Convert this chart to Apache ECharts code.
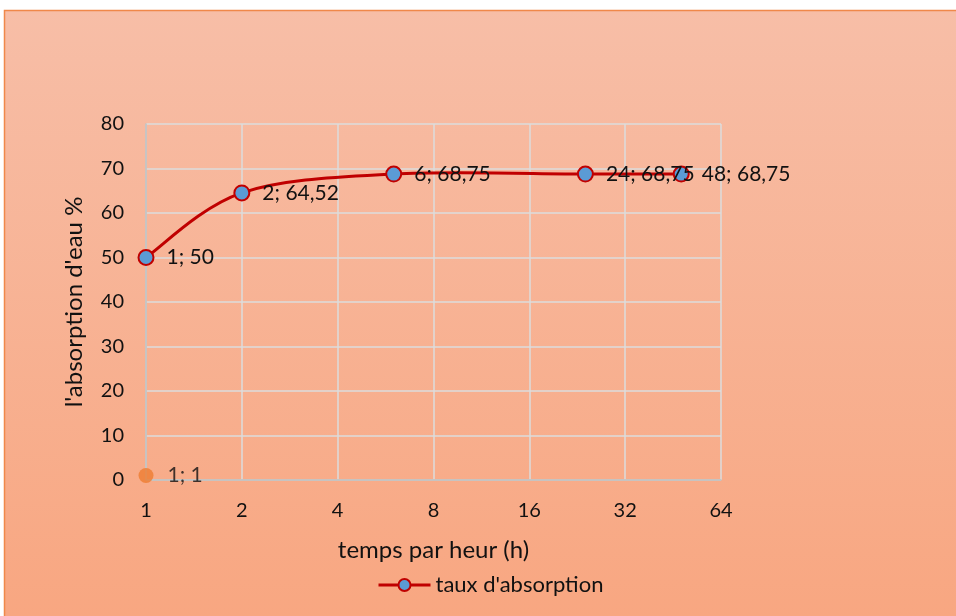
<!DOCTYPE html>
<html>
<head>
<meta charset="utf-8">
<script src="https://cdn.jsdelivr.net/npm/echarts@6/dist/echarts.min.js"></script>
<style>
html,body{margin:0;padding:0;background:#fff;}
#c{width:956px;height:616px;}
</style>
</head>
<body>
<div id="c"></div>
<script>
const seriesName = "taux d'absorption";
const hours = [1, 2, 6, 24, 48];
const absorption = [50, 64.52, 68.75, 68.75, 68.75];
const labelTexts = ["1; 50", "2; 64,52", "6; 68,75", "24; 68,75", "48; 68,75"];
const extraPoint = [1, 1];
const extraLabel = "1; 1";
const xTicks = [1, 2, 4, 8, 16, 32, 64];
const yTicks = [0, 10, 20, 30, 40, 50, 60, 70, 80];

const FONT = 'Lato';
const chart = echarts.init(document.getElementById('c'), null, {renderer: 'canvas'});

// Smooth curve (Catmull-Rom / Excel style) through the data, via axis coords
function renderCurve(params, api) {
  if (params.dataIndex !== 0) return null;
  const pts = hours.map((h, i) => api.coord([h, absorption[i]]));
  let d = 'M' + pts[0][0] + ' ' + pts[0][1];
  for (let i = 0; i < pts.length - 1; i++) {
    const p0 = pts[Math.max(i - 1, 0)], p1 = pts[i], p2 = pts[i + 1], p3 = pts[Math.min(i + 2, pts.length - 1)];
    const c1 = [p1[0] + (p2[0] - p0[0]) / 6, p1[1] + (p2[1] - p0[1]) / 6];
    const c2 = [p2[0] - (p3[0] - p1[0]) / 6, p2[1] - (p3[1] - p1[1]) / 6];
    d += ' C' + c1[0] + ' ' + c1[1] + ' ' + c2[0] + ' ' + c2[1] + ' ' + p2[0] + ' ' + p2[1];
  }
  return {
    type: 'path',
    shape: {pathData: d},
    style: {fill: null, stroke: '#C00000', lineWidth: 3, lineJoin: 'round'}
  };
}

const option = {
  animation: false,
  textStyle: {fontFamily: FONT},
  graphic: [{
    type: 'rect', z: -10, silent: true,
    shape: {x: 4.5, y: 10.5, width: 960, height: 620},
    style: {
      fill: new echarts.graphic.LinearGradient(0, 0, 0, 1, [
        {offset: 0, color: '#F7BEA7'},
        {offset: 1, color: '#F8A680'}
      ]),
      stroke: '#F0884A', lineWidth: 1.5
    }
  }],
  grid: {left: 146, right: 235, top: 124, bottom: 136, containLabel: false},
  legend: {
    top: 569, left: 372,
    data: [{name: seriesName}],
    itemWidth: 52, itemHeight: 15, itemGap: 6,
    lineStyle: {color: '#C00000', width: 3, opacity: 1},
    itemStyle: {color: '#5B9BD5', borderColor: '#C00000', borderWidth: 2},
    textStyle: {fontFamily: FONT, fontSize: 22, color: '#111'}
  },
  xAxis: {
    type: 'log', logBase: 2, min: xTicks[0], max: xTicks[xTicks.length - 1],
    name: 'temps par heur (h)', nameLocation: 'middle', nameGap: 58,
    nameTextStyle: {fontFamily: FONT, fontSize: 24, color: '#111'},
    axisLine: {show: true, lineStyle: {color: '#BFBFBF', width: 1.5}},
    axisTick: {show: false},
    minorTick: {show: false},
    axisLabel: {fontFamily: FONT, fontSize: 20, color: '#111', margin: 21,
      formatter: v => String(Math.round(v))},
    splitLine: {show: true, lineStyle: {color: '#DCDCDC', width: 1.5}}
  },
  yAxis: {
    type: 'value', min: yTicks[0], max: yTicks[yTicks.length - 1], interval: 10,
    name: "l'absorption d'eau %", nameLocation: 'middle', nameGap: 60,
    nameTextStyle: {fontFamily: FONT, fontSize: 24, color: '#111'},
    axisLine: {show: true, lineStyle: {color: '#BFBFBF', width: 1.5}},
    axisTick: {show: false},
    axisLabel: {fontFamily: FONT, fontSize: 20, color: '#111', margin: 22},
    splitLine: {show: true, lineStyle: {color: '#DCDCDC', width: 1.5}}
  },
  series: [
    {
      name: 'curve', type: 'custom', coordinateSystem: 'cartesian2d',
      data: hours.map((h, i) => [h, absorption[i]]),
      renderItem: renderCurve, silent: true, z: 2
    },
    {
      name: seriesName, type: 'line',
      data: hours.map((h, i) => [h, absorption[i]]),
      symbol: 'circle', symbolSize: 15,
      lineStyle: {color: '#C00000', width: 3, opacity: 0},
      itemStyle: {color: '#5B9BD5', borderColor: '#C00000', borderWidth: 2},
      label: {
        show: true, position: 'right', distance: 12,
        fontFamily: FONT, fontSize: 21, color: '#111',
        formatter: p => labelTexts[p.dataIndex]
      },
      z: 3
    },
    {
      name: 'extra', type: 'scatter',
      data: [extraPoint],
      symbol: 'circle', symbolSize: 15,
      itemStyle: {color: '#ED7D31'},
      label: {
        show: true, position: 'right', distance: 14,
        fontFamily: FONT, fontSize: 21, color: '#111',
        formatter: () => extraLabel
      },
      z: 4
    }
  ]
};
chart.setOption(option);
</script>
</body>
</html>
